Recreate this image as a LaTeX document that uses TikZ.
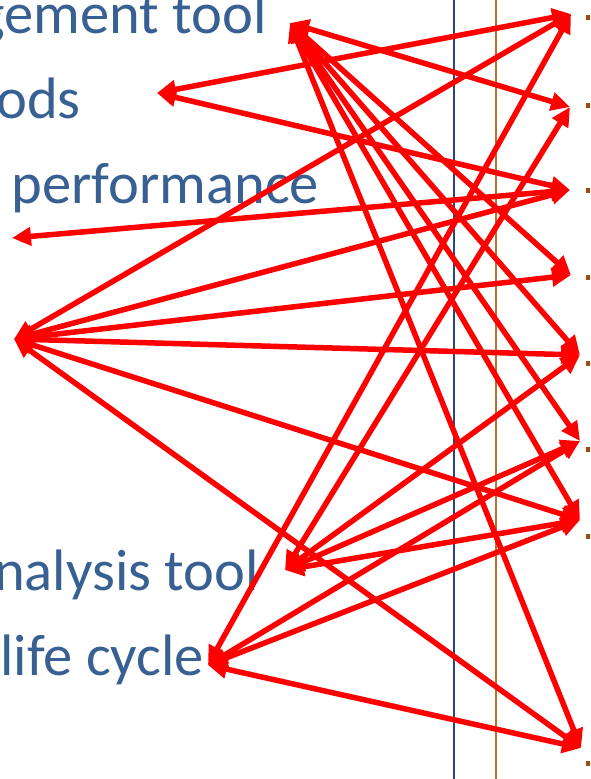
\documentclass[tikz,border=0pt]{standalone}
\usepackage{fontspec}
\setmainfont{Carlito}
\usetikzlibrary{arrows.meta}
\definecolor{txtblue}{RGB}{56,96,146}
\definecolor{vblue}{RGB}{40,70,130}
\definecolor{vbrown}{RGB}{190,110,45}
\definecolor{sqbrown}{RGB}{150,80,20}
\tikzset{
  lbl/.style={font=\fontsize{58.5}{58.5}\selectfont, text=txtblue, inner sep=0pt, anchor=base east},
  link/.style={draw=red, line width=5.5pt, {Triangle[length=19pt,width=18pt]}-{Triangle[length=19pt,width=18pt]}},
  vline/.style={line width=1.6pt},
  sq/.style={fill=sqbrown, minimum width=4.5pt, minimum height=5pt, inner sep=0pt, draw=none}
}
\begin{document}
\begin{tikzpicture}[x=1pt,y=-1pt]
\useasboundingbox (0,0) rectangle (590,779);
\clip (0,0) rectangle (590,779);
\fill[white] (0,0) rectangle (590,779);
% texts
\node[lbl] (t1) at (267,33) {gement tool};
\node[lbl] (t2) at (81,118) {ods};
\node[lbl] (t3) at (319,203) {performance};
\node[lbl] (t5) at (259,590) {nalysis tool};
\node[lbl] (t6) at (204,675) {life cycle};
% vertical lines
\draw[vline, draw=vblue] (454,0) -- (454,779);
\draw[vline, draw=vbrown] (496,0) -- (496,779);
% square bullets
\node[sq] (s1) at (588.5,17) {};
\node[sq] (s2) at (588.5,105) {};
\node[sq] (s3) at (588.5,190) {};
\node[sq] (s4) at (588.5,277) {};
\node[sq] (s5) at (588.5,363) {};
\node[sq] (s6) at (588.5,449) {};
\node[sq] (s7) at (588.5,536) {};
\node[sq] (s8) at (588.5,763) {};
% endpoints
\coordinate (L1) at (290,23);
\coordinate (L2) at (157,93);
\coordinate (L3) at (12,238);
\coordinate (L4) at (14,339);
\coordinate (L5) at (285,570);
\coordinate (L6) at (208,665);
\coordinate (R1) at (571,14);
\coordinate (R2) at (570,107);
\coordinate (R3) at (570,190);
\coordinate (R4) at (571,275);
\coordinate (R5) at (580,355);
\coordinate (R6) at (580,441);
\coordinate (R7) at (580,520);
\coordinate (R8) at (581,748);
% connectors
\draw[link] (L1) -- (R2);
\draw[link] (L1) -- (R4);
\draw[link] (L1) -- (R5);
\draw[link] (L1) -- (R6);
\draw[link] (L1) -- (R7);
\draw[link] (L1) -- (R8);
\draw[link] (L2) -- (R1);
\draw[link] (L2) -- (R3);
\draw[link] (L3) -- (R3);
\draw[link] (L4) -- (R1);
\draw[link] (L4) -- (R3);
\draw[link] (L4) -- (R4);
\draw[link] (L4) -- (R5);
\draw[link] (L4) -- (R7);
\draw[link] (L4) -- (R8);
\draw[link] (L5) -- (R2);
\draw[link] (L5) -- (R5);
\draw[link] (L5) -- (R6);
\draw[link] (L5) -- (R7);
\draw[link] (L6) -- (R1);
\draw[link] (L6) -- (R6);
\draw[link] (L6) -- (R7);
\draw[link] (L6) -- (R8);
\end{tikzpicture}
\end{document}
